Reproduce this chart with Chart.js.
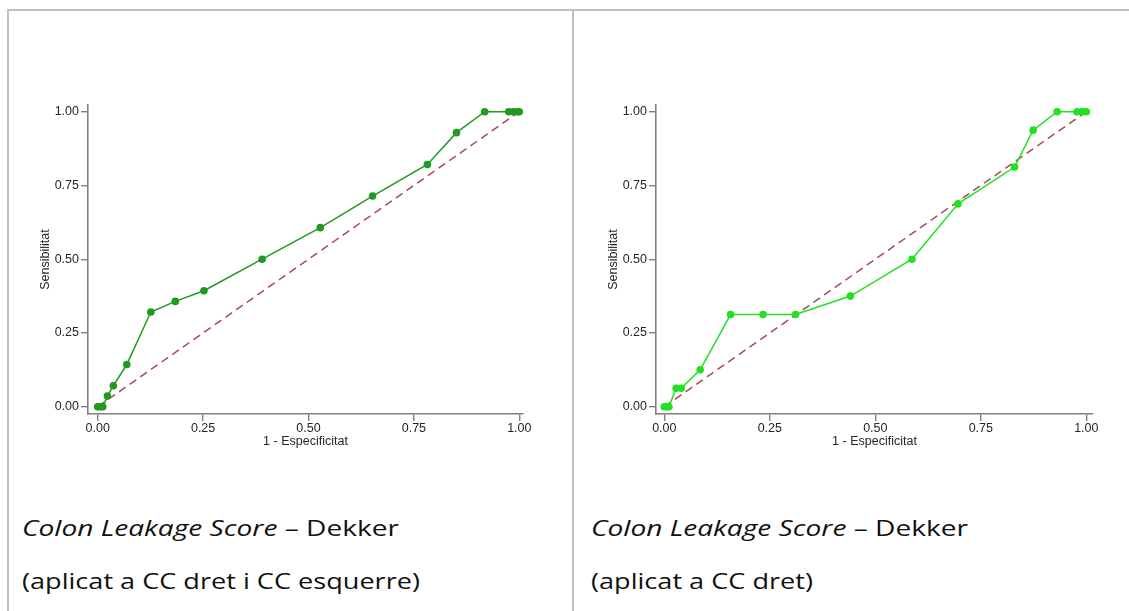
<!DOCTYPE html>
<html>
<head>
<meta charset="utf-8">
<script src="https://cdn.jsdelivr.net/npm/chart.js@4.4.1/dist/chart.umd.min.js"></script>
<style>
body{margin:0;background:#fff;width:1129px;height:611px;overflow:hidden;position:relative;font-family:"Open Sans",sans-serif}
.rule{position:absolute;background:#bfbfbf}
.box{position:absolute;top:95px;width:520px;height:370px}
.cap{position:absolute;font-size:21px;line-height:1;color:#111;white-space:nowrap;transform-origin:0 0;display:inline-block}
</style>
</head>
<body>
<div class="rule" style="left:7px;top:9px;width:1122px;height:2px"></div>
<div class="rule" style="left:7px;top:9px;width:2px;height:602px"></div>
<div class="rule" style="left:572px;top:9px;width:2px;height:602px"></div>

<div class="box" style="left:30px"><canvas id="rocBoth"></canvas></div>
<div class="box" style="left:598px"><canvas id="rocRight"></canvas></div>

<div class="cap" data-w="377" style="left:22px;top:518px"><i>Colon Leakage Score</i> – Dekker</div>
<div class="cap" data-w="398" style="left:22px;top:571px">(aplicat a CC dret i CC esquerre)</div>
<div class="cap" data-w="377" style="left:591px;top:518px"><i>Colon Leakage Score</i> – Dekker</div>
<div class="cap" data-w="222" style="left:591px;top:571px">(aplicat a CC dret)</div>

<script>
// ROC points, CC dret + CC esquerre
let bothFpr  = [0, 0.007, 0.012, 0.023, 0.037, 0.069, 0.126, 0.184, 0.252, 0.390, 0.528, 0.652, 0.782, 0.851, 0.918, 0.975, 0.986, 0.996, 1.0];
let bothSens = [0, 0, 0, 0.036, 0.071, 0.143, 0.321, 0.357, 0.393, 0.500, 0.607, 0.714, 0.821, 0.929, 1, 1, 1, 1, 1];

// ROC points, CC dret only
let rightFpr  = [0, 0.006, 0.011, 0.028, 0.040, 0.085, 0.157, 0.234, 0.311, 0.441, 0.587, 0.696, 0.830, 0.874, 0.931, 0.978, 0.990, 1.0];
let rightSens = [0, 0, 0, 0.0625, 0.0625, 0.125, 0.3125, 0.3125, 0.3125, 0.375, 0.500, 0.6875, 0.8125, 0.9375, 1, 1, 1, 1];

// diagonal reference
let refFpr  = [0, 1];
let refSens = [0, 1];

let tickValues = [0, 0.25, 0.5, 0.75, 1];

const axisColor = "#808080";
const textColor = "#262626";
const tickFont = {family: "'Liberation Sans', Arial, sans-serif", size: 12.5};

function toPoints(xs, ys){
  return xs.map((x, i) => ({x: x, y: ys[i]}));
}

function setTicks(scale){
  scale.ticks = tickValues.map(v => ({value: v}));
}

function rocChart(id, fpr, sens, color, xMin, xMax, padRight){
  return new Chart(document.getElementById(id), {
    type: "scatter",
    data: {
      datasets: [
        {
          data: toPoints(fpr, sens),
          showLine: true,
          borderColor: color,
          backgroundColor: color,
          borderWidth: 1.5,
          pointRadius: 3.8,
          pointBorderWidth: 0
        },
        {
          data: toPoints(refFpr, refSens),
          showLine: true,
          borderColor: "#a8495b",
          borderWidth: 1.5,
          borderDash: [8, 5],
          pointRadius: 0
        }
      ]
    },
    options: {
      responsive: true,
      maintainAspectRatio: false,
      animation: false,
      layout: {padding: {left: 0, top: 10, right: padRight, bottom: 0}},
      plugins: {legend: {display: false}, tooltip: {enabled: false}},
      scales: {
        x: {
          type: "linear",
          min: xMin,
          max: xMax,
          afterBuildTicks: setTicks,
          afterFit: s => { s.height = 51; },
          ticks: {callback: v => v.toFixed(2), font: tickFont, color: textColor, padding: 0, maxRotation: 0, autoSkip: false},
          grid: {display: true, drawOnChartArea: false, tickLength: 7, color: axisColor, lineWidth: 1.4},
          border: {display: true, color: axisColor, width: 1.6},
          title: {display: true, text: "1 - Especificitat", font: tickFont, color: textColor, padding: {top: 0, bottom: 16}}
        },
        y: {
          type: "linear",
          min: -0.0247,
          max: 1.0227,
          afterBuildTicks: setTicks,
          afterFit: s => { s.width = 58; },
          ticks: {callback: v => v.toFixed(2), font: tickFont, color: textColor, padding: 2, autoSkip: false},
          grid: {display: true, drawOnChartArea: false, tickLength: 7, color: axisColor, lineWidth: 1.4},
          border: {display: true, color: axisColor, width: 1.6},
          title: {display: true, text: "Sensibilitat", font: tickFont, color: textColor, padding: {top: 8, bottom: 0}}
        }
      }
    }
  });
}

rocChart("rocBoth", bothFpr, bothSens, "#1f9a1f", -0.023, 1.0088, 27);
rocChart("rocRight", rightFpr, rightSens, "#22e022", -0.0197, 1.0159, 25);

// captions are stretched to the column text width
document.querySelectorAll(".cap").forEach(el => {
  let w = el.getBoundingClientRect().width;
  el.style.transform = "scaleX(" + (Number(el.dataset.w) / w) + ")";
});
</script>
</body>
</html>
